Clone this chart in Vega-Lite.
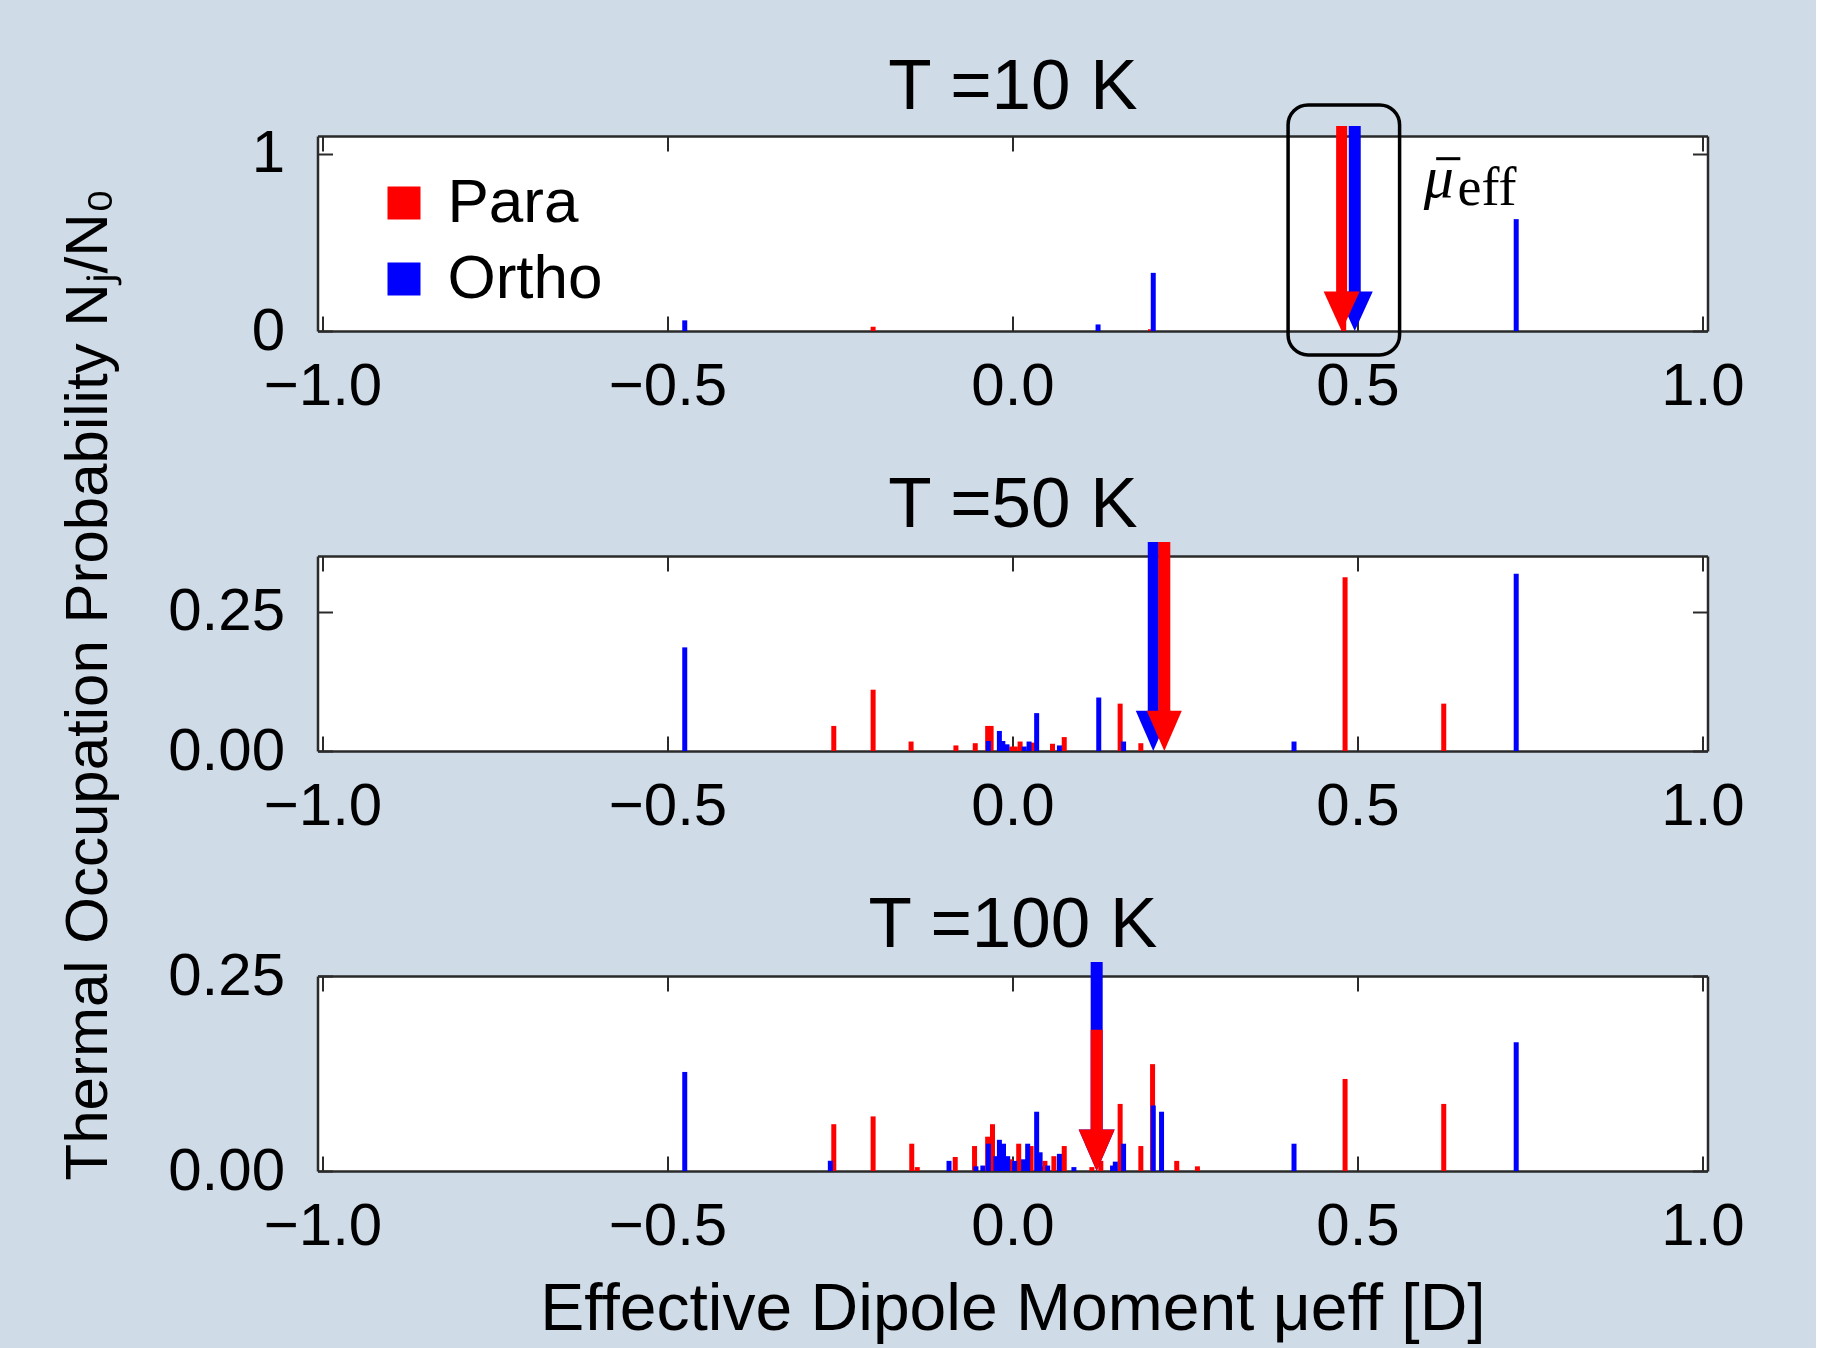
{
  "$schema": "https://vega.github.io/schema/vega-lite/v6.json",
  "background": "#D0DBE8",
  "padding": {"left": 57.5, "top": 51, "right": 71, "bottom": 8},
  "config": {
    "view": {"fill": "white", "stroke": null},
    "font": "Liberation Sans",
    "axis": {"domain": true, "domainColor": "#2a2a2a", "domainWidth": 2.5, "tickColor": "#2a2a2a", "tickWidth": 2, "tickSize": -15, "grid": false, "labelFont": "Liberation Sans", "labelFontSize": 60, "labelColor": "black", "labelFlush": false, "labelOverlap": false, "titleFont": "Liberation Sans", "titleFontWeight": "normal", "titleColor": "black", "zindex": 1}
  },
  "datasets": {
    "bars10": [
      {"species": "Para", "mu": -0.202, "prob": 0.024},
      {"species": "Para", "mu": 0.200, "prob": 0.010},
      {"species": "Para", "mu": 0.480, "prob": 0.960},
      {"species": "Ortho", "mu": -0.475, "prob": 0.060},
      {"species": "Ortho", "mu": 0.124, "prob": 0.037},
      {"species": "Ortho", "mu": 0.204, "prob": 0.328},
      {"species": "Ortho", "mu": 0.730, "prob": 0.631}
    ],
    "bars50": [
      {"species": "Para", "mu": -0.259, "prob": 0.045},
      {"species": "Para", "mu": -0.202, "prob": 0.110},
      {"species": "Para", "mu": -0.147, "prob": 0.017},
      {"species": "Para", "mu": -0.082, "prob": 0.010},
      {"species": "Para", "mu": -0.054, "prob": 0.014},
      {"species": "Para", "mu": -0.036, "prob": 0.045},
      {"species": "Para", "mu": -0.031, "prob": 0.045},
      {"species": "Para", "mu": -0.001, "prob": 0.008},
      {"species": "Para", "mu": 0.004, "prob": 0.008},
      {"species": "Para", "mu": 0.011, "prob": 0.017},
      {"species": "Para", "mu": 0.030, "prob": 0.015},
      {"species": "Para", "mu": 0.058, "prob": 0.013},
      {"species": "Para", "mu": 0.075, "prob": 0.025},
      {"species": "Para", "mu": 0.156, "prob": 0.085},
      {"species": "Para", "mu": 0.186, "prob": 0.014},
      {"species": "Para", "mu": 0.482, "prob": 0.312},
      {"species": "Para", "mu": 0.625, "prob": 0.085},
      {"species": "Ortho", "mu": -0.475, "prob": 0.186},
      {"species": "Ortho", "mu": -0.035, "prob": 0.018},
      {"species": "Ortho", "mu": -0.019, "prob": 0.036},
      {"species": "Ortho", "mu": -0.014, "prob": 0.018},
      {"species": "Ortho", "mu": -0.008, "prob": 0.012},
      {"species": "Ortho", "mu": 0.017, "prob": 0.008},
      {"species": "Ortho", "mu": 0.024, "prob": 0.017},
      {"species": "Ortho", "mu": 0.035, "prob": 0.068},
      {"species": "Ortho", "mu": 0.068, "prob": 0.010},
      {"species": "Ortho", "mu": 0.125, "prob": 0.096},
      {"species": "Ortho", "mu": 0.161, "prob": 0.017},
      {"species": "Ortho", "mu": 0.408, "prob": 0.017},
      {"species": "Ortho", "mu": 0.730, "prob": 0.318}
    ],
    "bars100": [
      {"species": "Para", "mu": -0.259, "prob": 0.060},
      {"species": "Para", "mu": -0.202, "prob": 0.070},
      {"species": "Para", "mu": -0.146, "prob": 0.035},
      {"species": "Para", "mu": -0.138, "prob": 0.005},
      {"species": "Para", "mu": -0.083, "prob": 0.018},
      {"species": "Para", "mu": -0.055, "prob": 0.032},
      {"species": "Para", "mu": -0.036, "prob": 0.044},
      {"species": "Para", "mu": -0.029, "prob": 0.060},
      {"species": "Para", "mu": -0.003, "prob": 0.015},
      {"species": "Para", "mu": 0.009, "prob": 0.035},
      {"species": "Para", "mu": 0.027, "prob": 0.032},
      {"species": "Para", "mu": 0.045, "prob": 0.006},
      {"species": "Para", "mu": 0.047, "prob": 0.013},
      {"species": "Para", "mu": 0.060, "prob": 0.019},
      {"species": "Para", "mu": 0.075, "prob": 0.032},
      {"species": "Para", "mu": 0.115, "prob": 0.005},
      {"species": "Para", "mu": 0.128, "prob": 0.013},
      {"species": "Para", "mu": 0.156, "prob": 0.086},
      {"species": "Para", "mu": 0.186, "prob": 0.032},
      {"species": "Para", "mu": 0.203, "prob": 0.137},
      {"species": "Para", "mu": 0.238, "prob": 0.013},
      {"species": "Para", "mu": 0.268, "prob": 0.006},
      {"species": "Para", "mu": 0.482, "prob": 0.118},
      {"species": "Para", "mu": 0.625, "prob": 0.086},
      {"species": "Ortho", "mu": -0.475, "prob": 0.127},
      {"species": "Ortho", "mu": -0.264, "prob": 0.013},
      {"species": "Ortho", "mu": -0.092, "prob": 0.013},
      {"species": "Ortho", "mu": -0.053, "prob": 0.006},
      {"species": "Ortho", "mu": -0.043, "prob": 0.007},
      {"species": "Ortho", "mu": -0.035, "prob": 0.035},
      {"species": "Ortho", "mu": -0.024, "prob": 0.019},
      {"species": "Ortho", "mu": -0.019, "prob": 0.040},
      {"species": "Ortho", "mu": -0.013, "prob": 0.035},
      {"species": "Ortho", "mu": -0.007, "prob": 0.019},
      {"species": "Ortho", "mu": 0.003, "prob": 0.013},
      {"species": "Ortho", "mu": 0.016, "prob": 0.015},
      {"species": "Ortho", "mu": 0.022, "prob": 0.035},
      {"species": "Ortho", "mu": 0.035, "prob": 0.076},
      {"species": "Ortho", "mu": 0.040, "prob": 0.024},
      {"species": "Ortho", "mu": 0.051, "prob": 0.007},
      {"species": "Ortho", "mu": 0.068, "prob": 0.022},
      {"species": "Ortho", "mu": 0.089, "prob": 0.005},
      {"species": "Ortho", "mu": 0.145, "prob": 0.007},
      {"species": "Ortho", "mu": 0.149, "prob": 0.012},
      {"species": "Ortho", "mu": 0.161, "prob": 0.035},
      {"species": "Ortho", "mu": 0.204, "prob": 0.084},
      {"species": "Ortho", "mu": 0.216, "prob": 0.076},
      {"species": "Ortho", "mu": 0.408, "prob": 0.035},
      {"species": "Ortho", "mu": 0.730, "prob": 0.165}
    ],
    "means": [
      {"T": "10 K", "species": "Para", "mean": 0.477},
      {"T": "10 K", "species": "Ortho", "mean": 0.496},
      {"T": "50 K", "species": "Para", "mean": 0.220},
      {"T": "50 K", "species": "Ortho", "mean": 0.204},
      {"T": "100 K", "species": "Para", "mean": 0.122},
      {"T": "100 K", "species": "Ortho", "mean": 0.122}
    ]
  },
  "vconcat": [
    {
      "width": 1390,
      "height": 195,
      "layer": [
        {
          "data": {"name": "bars10"},
          "mark": {"type": "bar", "width": 5},
          "encoding": {
            "x": {"field": "mu", "type": "quantitative", "scale": {"domain": [-1, 1], "nice": false}, "axis": {"orient": "bottom", "values": [-1, -0.5, 0, 0.5, 1], "format": ".1f", "labelPadding": 41, "title": null}},
            "y": {"field": "prob", "type": "quantitative", "stack": null, "scale": {"domain": [0, 1.1], "nice": false}, "axis": {"orient": "left", "values": [0, 1], "format": "d", "labelPadding": 48, "title": null}},
            "color": {"field": "species", "type": "nominal", "scale": {"domain": ["Para", "Ortho"], "range": ["#FF0000", "#0000FF"]}, "legend": {"title": null, "orient": "none", "legendX": 55.5, "legendY": 36, "direction": "vertical", "symbolType": "square", "symbolSize": 1089, "symbolStrokeWidth": 0, "symbolOpacity": 1, "labelFontSize": 62, "labelFont": "Liberation Sans", "labelColor": "black", "labelOffset": 12.5, "labelLimit": 400, "rowPadding": 14, "padding": 0}}
          }
        },
        {
          "data": {"name": "means"},
          "transform": [{"filter": "datum.T === '10 K' && datum.species === 'Ortho'"}],
          "mark": {"type": "rule", "strokeWidth": 12, "strokeCap": "butt", "color": "#0000FF"},
          "encoding": {
            "x": {"field": "mean", "type": "quantitative", "scale": {"domain": [-1, 1], "nice": false}, "axis": {"orient": "top", "values": [-1, -0.5, 0, 0.5, 1], "labels": false, "title": "T =10 K", "titleFontSize": 71, "titleY": -28, "titleBaseline": "alphabetic"}},
            "y": {"datum": 1.156, "type": "quantitative", "scale": {"domain": [0, 1.1], "nice": false}, "axis": {"orient": "right", "values": [0, 1], "labels": false, "title": null}},
            "y2": {"datum": 0.2}
          }
        },
        {
          "data": {"name": "means"},
          "transform": [{"filter": "datum.T === '10 K' && datum.species === 'Ortho'"}],
          "mark": {"type": "point", "shape": "M-1,-2.2L1,-2.2L0,0Z", "size": 1296, "filled": true, "opacity": 1, "strokeWidth": 0, "color": "#0000FF"},
          "encoding": {
            "x": {"field": "mean", "type": "quantitative", "scale": {"domain": [-1, 1], "nice": false}, "axis": null},
            "y": {"datum": 0, "type": "quantitative", "scale": {"domain": [0, 1.1], "nice": false}, "axis": null}
          }
        },
        {
          "data": {"name": "means"},
          "transform": [{"filter": "datum.T === '10 K' && datum.species === 'Para'"}],
          "mark": {"type": "rule", "strokeWidth": 11, "strokeCap": "butt", "color": "#FF0000"},
          "encoding": {
            "x": {"field": "mean", "type": "quantitative", "scale": {"domain": [-1, 1], "nice": false}, "axis": null},
            "y": {"datum": 1.156, "type": "quantitative", "scale": {"domain": [0, 1.1], "nice": false}, "axis": null},
            "y2": {"datum": 0.2}
          }
        },
        {
          "data": {"name": "means"},
          "transform": [{"filter": "datum.T === '10 K' && datum.species === 'Para'"}],
          "mark": {"type": "point", "shape": "M-1,-2.2L1,-2.2L0,0Z", "size": 1296, "filled": true, "opacity": 1, "strokeWidth": 0, "color": "#FF0000"},
          "encoding": {
            "x": {"field": "mean", "type": "quantitative", "scale": {"domain": [-1, 1], "nice": false}, "axis": null},
            "y": {"datum": 0, "type": "quantitative", "scale": {"domain": [0, 1.1], "nice": false}, "axis": null}
          }
        },
        {
          "data": {"values": [{"note": "mean box"}]},
          "mark": {"type": "rect", "fill": "transparent", "stroke": "black", "strokeWidth": 3.5, "cornerRadius": 20},
          "encoding": {
            "x": {"datum": 0.3994, "type": "quantitative", "scale": {"domain": [-1, 1], "nice": false}, "axis": null},
            "x2": {"datum": 0.561},
            "y": {"datum": 1.275, "type": "quantitative", "scale": {"domain": [0, 1.1], "nice": false}, "axis": null},
            "y2": {"datum": -0.135}
          }
        },
        {
          "data": {"values": [{"label": "μ"}]},
          "mark": {"type": "text", "align": "left", "baseline": "alphabetic", "font": "Liberation Serif", "fontStyle": "italic", "fontSize": 60, "color": "black"},
          "encoding": {
            "x": {"datum": 0.596, "type": "quantitative", "scale": {"domain": [-1, 1], "nice": false}, "axis": null},
            "y": {"datum": 0.758, "type": "quantitative", "scale": {"domain": [0, 1.1], "nice": false}, "axis": null},
            "text": {"field": "label"}
          }
        },
        {
          "data": {"values": [{"note": "bar over mu"}]},
          "mark": {"type": "rule", "strokeWidth": 3, "strokeCap": "butt", "color": "black"},
          "encoding": {
            "x": {"datum": 0.614, "type": "quantitative", "scale": {"domain": [-1, 1], "nice": false}, "axis": null},
            "x2": {"datum": 0.649},
            "y": {"datum": 0.972, "type": "quantitative", "scale": {"domain": [0, 1.1], "nice": false}, "axis": null}
          }
        },
        {
          "data": {"values": [{"label": "eff"}]},
          "mark": {"type": "text", "align": "left", "baseline": "alphabetic", "font": "Liberation Serif", "fontSize": 54, "color": "black"},
          "encoding": {
            "x": {"datum": 0.645, "type": "quantitative", "scale": {"domain": [-1, 1], "nice": false}, "axis": null},
            "y": {"datum": 0.713, "type": "quantitative", "scale": {"domain": [0, 1.1], "nice": false}, "axis": null},
            "text": {"field": "label"}
          }
        }
      ],
      "resolve": {"axis": {"x": "independent", "y": "independent"}}
    },
    {
      "width": 1390,
      "height": 195,
      "layer": [
        {
          "data": {"name": "bars50"},
          "mark": {"type": "bar", "width": 5},
          "encoding": {
            "x": {"field": "mu", "type": "quantitative", "scale": {"domain": [-1, 1], "nice": false}, "axis": {"orient": "bottom", "values": [-1, -0.5, 0, 0.5, 1], "format": ".1f", "labelPadding": 41, "title": null}},
            "y": {"field": "prob", "type": "quantitative", "stack": null, "scale": {"domain": [0, 0.35], "nice": false}, "axis": {"orient": "left", "values": [0, 0.25], "format": ".2f", "labelPadding": 48, "title": "Thermal Occupation Probability Nⱼ/N₀", "titleFontSize": 60, "titleX": -211, "titleY": 128, "titleBaseline": "alphabetic", "titleAlign": "center", "titleAngle": 270}},
            "color": {"field": "species", "type": "nominal", "scale": {"domain": ["Para", "Ortho"], "range": ["#FF0000", "#0000FF"]}, "legend": null}
          }
        },
        {
          "data": {"name": "means"},
          "transform": [{"filter": "datum.T === '50 K' && datum.species === 'Ortho'"}],
          "mark": {"type": "rule", "strokeWidth": 11, "strokeCap": "butt", "color": "#0000FF"},
          "encoding": {
            "x": {"field": "mean", "type": "quantitative", "scale": {"domain": [-1, 1], "nice": false}, "axis": {"orient": "top", "values": [-1, -0.5, 0, 0.5, 1], "labels": false, "title": "T =50 K", "titleFontSize": 71, "titleY": -30, "titleBaseline": "alphabetic"}},
            "y": {"datum": 0.375, "type": "quantitative", "scale": {"domain": [0, 0.35], "nice": false}, "axis": {"orient": "right", "values": [0, 0.25], "labels": false, "title": null}},
            "y2": {"datum": 0.06}
          }
        },
        {
          "data": {"name": "means"},
          "transform": [{"filter": "datum.T === '50 K' && datum.species === 'Ortho'"}],
          "mark": {"type": "point", "shape": "M-1,-2.3L1,-2.3L0,0Z", "size": 1225, "filled": true, "opacity": 1, "strokeWidth": 0, "color": "#0000FF"},
          "encoding": {
            "x": {"field": "mean", "type": "quantitative", "scale": {"domain": [-1, 1], "nice": false}, "axis": null},
            "y": {"datum": 0, "type": "quantitative", "scale": {"domain": [0, 0.35], "nice": false}, "axis": null}
          }
        },
        {
          "data": {"name": "means"},
          "transform": [{"filter": "datum.T === '50 K' && datum.species === 'Para'"}],
          "mark": {"type": "rule", "strokeWidth": 12, "strokeCap": "butt", "color": "#FF0000"},
          "encoding": {
            "x": {"field": "mean", "type": "quantitative", "scale": {"domain": [-1, 1], "nice": false}, "axis": null},
            "y": {"datum": 0.375, "type": "quantitative", "scale": {"domain": [0, 0.35], "nice": false}, "axis": null},
            "y2": {"datum": 0.06}
          }
        },
        {
          "data": {"name": "means"},
          "transform": [{"filter": "datum.T === '50 K' && datum.species === 'Para'"}],
          "mark": {"type": "point", "shape": "M-1,-2.3L1,-2.3L0,0Z", "size": 1225, "filled": true, "opacity": 1, "strokeWidth": 0, "color": "#FF0000"},
          "encoding": {
            "x": {"field": "mean", "type": "quantitative", "scale": {"domain": [-1, 1], "nice": false}, "axis": null},
            "y": {"datum": 0, "type": "quantitative", "scale": {"domain": [0, 0.35], "nice": false}, "axis": null}
          }
        }
      ],
      "resolve": {"axis": {"x": "independent", "y": "independent"}}
    },
    {
      "width": 1390,
      "height": 195,
      "layer": [
        {
          "data": {"name": "bars100"},
          "mark": {"type": "bar", "width": 5},
          "encoding": {
            "x": {"field": "mu", "type": "quantitative", "scale": {"domain": [-1, 1], "nice": false}, "axis": {"orient": "bottom", "values": [-1, -0.5, 0, 0.5, 1], "format": ".1f", "labelPadding": 41, "title": "Effective Dipole Moment μeff [D]", "titleFontSize": 66, "titleY": 158, "titleBaseline": "alphabetic"}},
            "y": {"field": "prob", "type": "quantitative", "stack": null, "scale": {"domain": [0, 0.25], "nice": false}, "axis": {"orient": "left", "values": [0, 0.25], "format": ".2f", "labelPadding": 48, "title": null}},
            "color": {"field": "species", "type": "nominal", "scale": {"domain": ["Para", "Ortho"], "range": ["#FF0000", "#0000FF"]}, "legend": null}
          }
        },
        {
          "data": {"name": "means"},
          "transform": [{"filter": "datum.T === '100 K' && datum.species === 'Ortho'"}],
          "mark": {"type": "rule", "strokeWidth": 12, "strokeCap": "butt", "color": "#0000FF"},
          "encoding": {
            "x": {"field": "mean", "type": "quantitative", "scale": {"domain": [-1, 1], "nice": false}, "axis": {"orient": "top", "values": [-1, -0.5, 0, 0.5, 1], "labels": false, "title": "T =100 K", "titleFontSize": 71, "titleY": -30, "titleBaseline": "alphabetic"}},
            "y": {"datum": 0.268, "type": "quantitative", "scale": {"domain": [0, 0.25], "nice": false}, "axis": {"orient": "right", "values": [0, 0.25], "labels": false, "title": null}},
            "y2": {"datum": 0.045}
          }
        },
        {
          "data": {"name": "means"},
          "transform": [{"filter": "datum.T === '100 K' && datum.species === 'Ortho'"}],
          "mark": {"type": "point", "shape": "M-1,-2.3L1,-2.3L0,0Z", "size": 1296, "filled": true, "opacity": 1, "strokeWidth": 0, "color": "#0000FF"},
          "encoding": {
            "x": {"field": "mean", "type": "quantitative", "scale": {"domain": [-1, 1], "nice": false}, "axis": null},
            "y": {"datum": 0, "type": "quantitative", "scale": {"domain": [0, 0.25], "nice": false}, "axis": null}
          }
        },
        {
          "data": {"name": "means"},
          "transform": [{"filter": "datum.T === '100 K' && datum.species === 'Para'"}],
          "mark": {"type": "rule", "strokeWidth": 12, "strokeCap": "butt", "color": "#FF0000"},
          "encoding": {
            "x": {"field": "mean", "type": "quantitative", "scale": {"domain": [-1, 1], "nice": false}, "axis": null},
            "y": {"datum": 0.181, "type": "quantitative", "scale": {"domain": [0, 0.25], "nice": false}, "axis": null},
            "y2": {"datum": 0.045}
          }
        },
        {
          "data": {"name": "means"},
          "transform": [{"filter": "datum.T === '100 K' && datum.species === 'Para'"}],
          "mark": {"type": "point", "shape": "M-1,-2.3L1,-2.3L0,0Z", "size": 1296, "filled": true, "opacity": 1, "strokeWidth": 0, "color": "#FF0000"},
          "encoding": {
            "x": {"field": "mean", "type": "quantitative", "scale": {"domain": [-1, 1], "nice": false}, "axis": null},
            "y": {"datum": 0, "type": "quantitative", "scale": {"domain": [0, 0.25], "nice": false}, "axis": null}
          }
        }
      ],
      "resolve": {"axis": {"x": "independent", "y": "independent"}}
    }
  ],
  "spacing": 225,
  "bounds": "flush",
  "resolve": {"scale": {"x": "independent", "y": "independent", "color": "independent"}, "legend": {"color": "independent"}}
}
